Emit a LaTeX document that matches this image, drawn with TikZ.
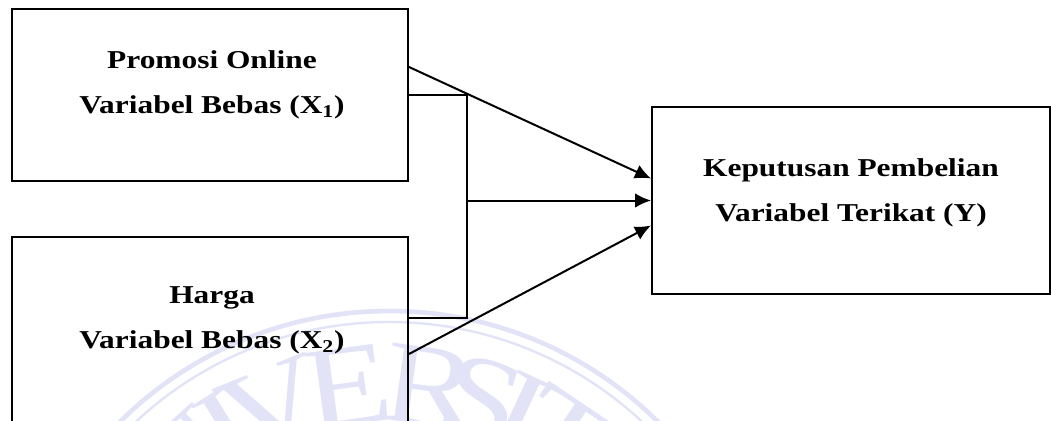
\documentclass[tikz,border=0pt]{standalone}
\usepackage{fontspec}
\setmainfont{Liberation Serif}
\newfontfamily\widefont[FakeStretch=1.22]{Liberation Serif}
\usetikzlibrary{arrows.meta,calc}
\definecolor{seal}{RGB}{226,227,247}
\begin{document}
\begin{tikzpicture}[x=0.75pt,y=-0.75pt,
  box/.style={draw, line width=1.5pt, inner sep=0pt},
  caption/.style={font=\widefont\fontsize{19.3}{33.75}\selectfont\bfseries, align=center, inner sep=0pt, anchor=north},
  link/.style={line width=1.5pt},
  arrow/.style={link, -{Latex[length=12pt,width=11pt]}},
  sealtext/.style={text=seal, font=\widefont\fontsize{88}{88}\selectfont, inner sep=0pt, anchor=north},
  sealring/.style={draw=seal}]
\useasboundingbox (0,0) rectangle (1051,421);
\clip (0,0) rectangle (1051,421);

% faint university seal in the background
\coordinate (sc) at (389,693);
\draw[sealring, line width=3.5pt] (sc) circle[radius=382];
\draw[sealring, line width=1.8pt] (sc) circle[radius=371];
\foreach \ch/\a [count=\i] in {U/-54,N/-42,I/-31.5,V/-22,E/-7.7,R/7.9,S/17.5,I/25,T/34,A/45,S/56}
  \node[sealtext, rotate=-\a] (seal\i) at ($(sc)+({348*sin(\a)},{-348*cos(\a)})$) {\ch};

% variable boxes
\node[box, minimum width=297pt, minimum height=129pt] (x1) at (210,95) {};
\node[box, minimum width=297pt, minimum height=225pt] (x2) at (210,387) {};
\node[box, minimum width=298.5pt, minimum height=140.25pt] (y) at (851,200.5) {};

\node[caption] (t1) at (212,50.5) {Promosi Online\\Variabel Bebas (X\textsubscript{1})};
\node[caption] (t2) at (212,286) {Harga\\Variabel Bebas (X\textsubscript{2})};
\node[caption] (t3) at (851,158) {Keputusan Pembelian\\Variabel Terikat (Y)};

% partial effects
\draw[arrow] ($(x1.north east)+(0,59)$) -- ($(y.west)+(0,-22)$);
\draw[arrow] ($(x2.north east)+(0,118)$) -- ($(y.west)+(0,25)$);

% joint effect bracket
\coordinate (bt) at ($(x1.east)+(58,0)$);
\coordinate (bb) at ($(bt |- x2.north)+(0,82)$);
\coordinate (bm) at (bt |- y.west);
\draw[link] (x1.east) -- (bt) -- (bb) -- (bb -| x2.east);
\draw[arrow] (bm) -- (y.west);
\end{tikzpicture}
\end{document}
